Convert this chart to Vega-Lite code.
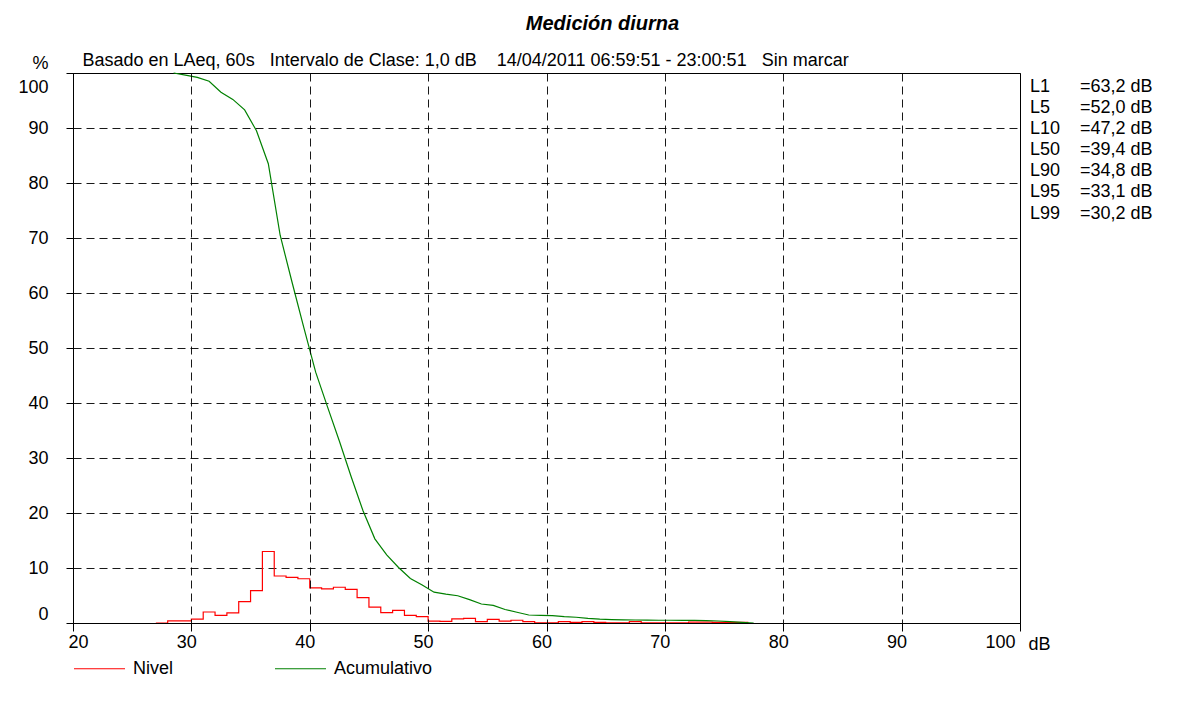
{
  "$schema": "https://vega.github.io/schema/vega-lite/v6.json",
  "width": 947,
  "height": 550,
  "autosize": {"type": "none"},
  "padding": {"left": 73, "top": 73, "right": 159, "bottom": 81},
  "background": "white",
  "config": {
    "font": "Liberation Sans",
    "view": {"stroke": "#000", "strokeWidth": 1},
    "axis": {
      "labelFont": "Liberation Sans", "labelFontSize": 18, "labelColor": "#000",
      "titleFont": "Liberation Sans", "titleFontSize": 18, "titleFontWeight": "normal", "titleColor": "#000",
      "domainColor": "#000", "tickColor": "#000", "gridColor": "#000", "gridDash": [8, 5], "gridOpacity": 0.9
    }
  },
  "title": {
    "text": "Medición diurna",
    "anchor": "middle", "frame": "group", "dx": 56, "offset": 17,
    "font": "Liberation Sans", "fontSize": 20, "fontWeight": "bold", "fontStyle": "italic", "color": "#000"
  },
  "datasets": {
    "nivel": [
      {"dB": 27, "pct": 0}, {"dB": 28, "pct": 0.4}, {"dB": 29, "pct": 0.4}, {"dB": 30, "pct": 0.7},
      {"dB": 31, "pct": 2.0}, {"dB": 32, "pct": 1.4}, {"dB": 33, "pct": 1.85}, {"dB": 34, "pct": 3.9},
      {"dB": 35, "pct": 5.9}, {"dB": 36, "pct": 13.0}, {"dB": 37, "pct": 8.55}, {"dB": 38, "pct": 8.3},
      {"dB": 39, "pct": 8.05}, {"dB": 40, "pct": 6.4}, {"dB": 41, "pct": 6.2}, {"dB": 42, "pct": 6.5},
      {"dB": 43, "pct": 6.1}, {"dB": 44, "pct": 4.6}, {"dB": 45, "pct": 2.9}, {"dB": 46, "pct": 1.9},
      {"dB": 47, "pct": 2.3}, {"dB": 48, "pct": 1.4}, {"dB": 49, "pct": 1.15}, {"dB": 50, "pct": 0.35},
      {"dB": 51, "pct": 0.3}, {"dB": 52, "pct": 0.75}, {"dB": 53, "pct": 0.85}, {"dB": 54, "pct": 0.25},
      {"dB": 55, "pct": 0.65}, {"dB": 56, "pct": 0.35}, {"dB": 57, "pct": 0.5}, {"dB": 58, "pct": 0.25},
      {"dB": 59, "pct": 0.05}, {"dB": 60, "pct": 0.05}, {"dB": 61, "pct": 0.25}, {"dB": 62, "pct": 0.1},
      {"dB": 63, "pct": 0.25}, {"dB": 64, "pct": 0.1}, {"dB": 65, "pct": 0.05}, {"dB": 66, "pct": 0.05},
      {"dB": 67, "pct": 0.25}, {"dB": 68, "pct": 0.05}, {"dB": 69, "pct": 0.05}, {"dB": 70, "pct": 0.05},
      {"dB": 71, "pct": 0.05}, {"dB": 72, "pct": 0.15}, {"dB": 73, "pct": 0.15}, {"dB": 74, "pct": 0.1},
      {"dB": 75, "pct": 0.1}, {"dB": 76, "pct": 0.1}, {"dB": 77, "pct": 0}
    ],
    "acumulativo": [
      {"dB": 28.5, "pct": 100}, {"dB": 29.5, "pct": 99.6}, {"dB": 30.5, "pct": 99.2}, {"dB": 31.5, "pct": 98.5},
      {"dB": 32.5, "pct": 96.5}, {"dB": 33.5, "pct": 95.2}, {"dB": 34.5, "pct": 93.3}, {"dB": 35.5, "pct": 89.5},
      {"dB": 36.5, "pct": 83.5}, {"dB": 37.5, "pct": 70.5}, {"dB": 38.5, "pct": 62.0}, {"dB": 39.5, "pct": 53.7},
      {"dB": 40.5, "pct": 45.6}, {"dB": 41.5, "pct": 39.3}, {"dB": 42.5, "pct": 33.1}, {"dB": 43.5, "pct": 26.6},
      {"dB": 44.5, "pct": 20.4}, {"dB": 45.5, "pct": 15.3}, {"dB": 46.5, "pct": 12.4}, {"dB": 47.5, "pct": 10.1},
      {"dB": 48.5, "pct": 8.1}, {"dB": 49.5, "pct": 6.9}, {"dB": 50.5, "pct": 5.6}, {"dB": 51.5, "pct": 5.25},
      {"dB": 52.5, "pct": 4.95}, {"dB": 53.5, "pct": 4.25}, {"dB": 54.5, "pct": 3.45}, {"dB": 55.5, "pct": 3.2},
      {"dB": 56.5, "pct": 2.45}, {"dB": 57.5, "pct": 1.95}, {"dB": 58.5, "pct": 1.45}, {"dB": 59.5, "pct": 1.38},
      {"dB": 60.5, "pct": 1.33}, {"dB": 61.5, "pct": 1.15}, {"dB": 62.5, "pct": 1.05}, {"dB": 63.5, "pct": 0.85},
      {"dB": 64.5, "pct": 0.7}, {"dB": 65.5, "pct": 0.62}, {"dB": 66.5, "pct": 0.58}, {"dB": 67.5, "pct": 0.55},
      {"dB": 68.5, "pct": 0.52}, {"dB": 69.5, "pct": 0.5}, {"dB": 70.5, "pct": 0.5}, {"dB": 71.5, "pct": 0.49},
      {"dB": 72.5, "pct": 0.48}, {"dB": 73.5, "pct": 0.42}, {"dB": 74.5, "pct": 0.36}, {"dB": 75.5, "pct": 0.26},
      {"dB": 76.5, "pct": 0.12}, {"dB": 77.5, "pct": 0}
    ],
    "stats": [
      {"stat": "L1", "val": "=63,2 dB"},
      {"stat": "L5", "val": "=52,0 dB"},
      {"stat": "L10", "val": "=47,2 dB"},
      {"stat": "L50", "val": "=39,4 dB"},
      {"stat": "L90", "val": "=34,8 dB"},
      {"stat": "L95", "val": "=33,1 dB"},
      {"stat": "L99", "val": "=30,2 dB"}
    ]
  },
  "layer": [
    {
      "data": {"name": "nivel"},
      "mark": {"type": "line", "interpolate": "step-after", "strokeWidth": 1.2},
      "encoding": {
        "x": {
          "field": "dB", "type": "quantitative",
          "scale": {"domain": [20, 100], "nice": false, "zero": false},
          "axis": {
            "orient": "bottom", "values": [20, 30, 40, 50, 60, 70, 80, 90, 100], "grid": true,
            "tickSize": 8, "labelPadding": 2, "labelFlush": true, "labelOffset": -5,
            "title": "dB", "titleX": 955, "titleY": 26, "titleAlign": "left", "titleBaseline": "alphabetic",
            "zindex": 1
          }
        },
        "y": {
          "field": "pct", "type": "quantitative",
          "scale": {"domain": [0, 100], "nice": false},
          "axis": {
            "values": [0, 10, 20, 30, 40, 50, 60, 70, 80, 90, 100], "grid": true,
            "tickSize": 7, "labelPadding": 18, "labelFlush": true,
            "labelOffset": {"condition": {"test": "datum.value == 100", "value": 5}, "value": 0},
            "title": "%", "titleAngle": 0, "titleX": -41, "titleY": -5, "titleAlign": "left", "titleBaseline": "alphabetic"
          }
        },
        "color": {
          "datum": "Nivel",
          "scale": {"domain": ["Nivel", "Acumulativo"], "range": ["#ff0000", "#008000"]},
          "legend": {
            "orient": "none", "legendX": 0, "legendY": 569, "direction": "horizontal", "title": null,
            "symbolType": "stroke", "symbolSize": 2601, "symbolStrokeWidth": 1.2,
            "labelFont": "Liberation Sans", "labelFontSize": 18, "labelColor": "#000", "labelOffset": 7,
            "columnPadding": 98, "padding": 0
          }
        }
      }
    },
    {
      "data": {"name": "acumulativo"},
      "mark": {"type": "line", "strokeWidth": 1.2},
      "encoding": {
        "x": {
          "field": "dB", "type": "quantitative",
          "scale": {"domain": [20, 100], "nice": false, "zero": false},
          "axis": {
            "orient": "top", "domain": false, "ticks": false, "labels": false, "grid": false,
            "title": "Basado en LAeq, 60s\u00a0\u00a0 Intervalo de Clase: 1,0 dB\u00a0\u00a0\u00a0 14/04/2011 06:59:51 - 23:00:51\u00a0\u00a0 Sin marcar",
            "titleX": 9, "titleY": -8, "titleAlign": "left", "titleBaseline": "alphabetic", "titleAnchor": "start"
          }
        },
        "y": {"field": "pct", "type": "quantitative", "scale": {"domain": [0, 100], "nice": false}, "axis": null},
        "color": {"datum": "Acumulativo"}
      }
    },
    {
      "data": {"name": "stats"},
      "mark": {"type": "text", "align": "left", "baseline": "middle", "dx": 10, "fontSize": 18, "font": "Liberation Sans", "color": "#000"},
      "encoding": {
        "x": {"datum": 100, "type": "quantitative", "scale": {"domain": [20, 100], "nice": false, "zero": false}, "axis": null},
        "y": {"field": "stat", "type": "nominal", "sort": null, "scale": {"type": "point", "range": [14, 140.5], "padding": 0}, "axis": null},
        "text": {"field": "stat"}
      }
    },
    {
      "data": {"name": "stats"},
      "mark": {"type": "text", "align": "left", "baseline": "middle", "dx": 60, "fontSize": 18, "font": "Liberation Sans", "color": "#000"},
      "encoding": {
        "x": {"datum": 100, "type": "quantitative", "scale": {"domain": [20, 100], "nice": false, "zero": false}, "axis": null},
        "y": {"field": "stat", "type": "nominal", "sort": null, "scale": {"type": "point", "range": [14, 140.5], "padding": 0}, "axis": null},
        "text": {"field": "val"}
      }
    }
  ],
  "resolve": {"scale": {"y": "independent"}, "axis": {"x": "independent"}}
}
